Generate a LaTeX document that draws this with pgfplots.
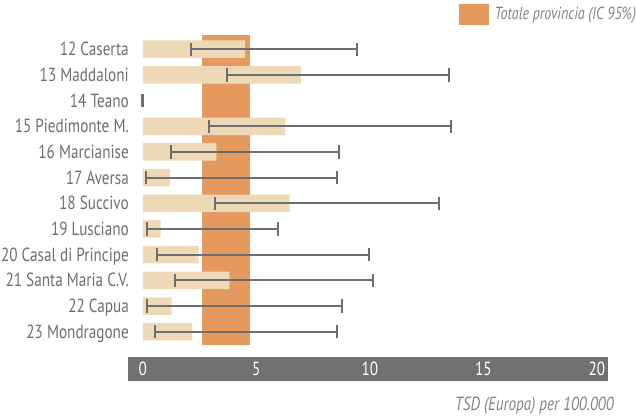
\documentclass[border=0pt]{standalone}
\usepackage{fontspec}
\setmainfont[FakeStretch=0.8]{PT Sans}
\usepackage{pgfplots}
\pgfplotsset{compat=1.18}
\usepackage{pgfplotstable}

\definecolor{txtgray}{HTML}{6D6E71}
\definecolor{legray}{HTML}{808285}
\definecolor{barcream}{HTML}{EED9B6}
\definecolor{provorange}{HTML}{E4995F}
\definecolor{bandgray}{HTML}{717174}

\pgfplotsset{/pgfplots/error bars/error bar style={line width=2.2pt, draw=txtgray}}

% y = row index, v = TSD, lo/hi = 95% CI
\pgfplotstableread{
y v lo hi
0 4.50 2.11 9.45
1 6.96 3.70 13.48
2 0 -0.03 0.01
3 6.28 2.90 13.56
4 3.24 1.24 8.66
5 1.19 0.14 8.57
6 6.47 3.19 13.06
7 0.79 0.17 5.96
8 2.46 0.64 9.95
9 3.83 1.43 10.14
10 1.27 0.17 8.78
11 2.17 0.54 8.57
}\data

\begin{document}
\begin{tikzpicture}[x=1pt,y=1pt]
\path[use as bounding box] (0,0) rectangle (636,-418);
\fill[bandgray] (128,-357) rectangle (608,-381);
\begin{axis}[
  at={(128pt,-345pt)}, anchor=south west,
  scale only axis, width=480pt, height=310pt,
  xmin=-0.65, xmax=20.49, ymin=-0.553, ymax=11.518,
  y dir=reverse, clip=false,
  axis lines=left, axis line style={draw=none},
  major tick length=0pt, tick style={draw=none},
  /pgf/number format/assume math mode=true,
  xtick={0,5,10,15,20},
  xticklabel style={anchor=center, yshift=-24pt, inner sep=0pt, text=white, font=\fontsize{19}{19}\selectfont},
  ytick={0,1,2,3,4,5,6,7,8,9,10,11},
  yticklabels={12 Caserta,13 Maddaloni,14 Teano,15 Piedimonte M.,16 Marcianise,17 Aversa,18 Succivo,19 Lusciano,20 Casal di Principe,21 Santa Maria C.V.,22 Capua,23 Mondragone},
  yticklabel style={anchor=base east, inner sep=0pt, xshift=1pt, yshift=-6.6pt, text=txtgray, font=\fontsize{19}{19}\selectfont},
  xlabel={TSD (Europa) per 100.000},
  xlabel style={at={(axis description cs:1.0125,-0.2097)}, anchor=base east, inner sep=0pt, text=legray, font=\itshape\fontsize{19}{19}\selectfont},
  legend style={at={(axis description cs:1.0625,1.1)}, anchor=north east, draw=none, fill=none, inner sep=0pt, outer sep=0pt, font=\itshape\fontsize{17.5}{17.5}\selectfont, text=legray},
  legend cell align=left,
]
\addplot[fill=provorange, draw=none, area legend,
  legend image code/.code={\fill[provorange] (0pt,-10.5pt) rectangle (30pt,10.5pt); \path (34pt,0pt);}]
  coordinates {(2.61,-0.553) (4.74,-0.553) (4.74,11.518) (2.61,11.518)} -- cycle;
\addlegendentry{Totale provincia (IC 95\%)}
\addplot[xbar, bar width=17.5pt, fill=barcream, draw=none, forget plot]
  table[x=v, y=y] {\data};
\addplot[txtgray, line width=2.2pt, only marks, mark=text, text mark={}, forget plot,
  error bars/.cd, x dir=both, x explicit,
  error bar style={line width=2.2pt, draw=txtgray, solid},
  error mark=|,
  error mark options={line width=2pt, draw=txtgray, mark size=6.7pt}]
  table[x=v, y=y, x error plus expr=\thisrow{hi}-\thisrow{v}, x error minus expr=\thisrow{v}-\thisrow{lo}] {\data};
\end{axis}
\end{tikzpicture}
\end{document}
